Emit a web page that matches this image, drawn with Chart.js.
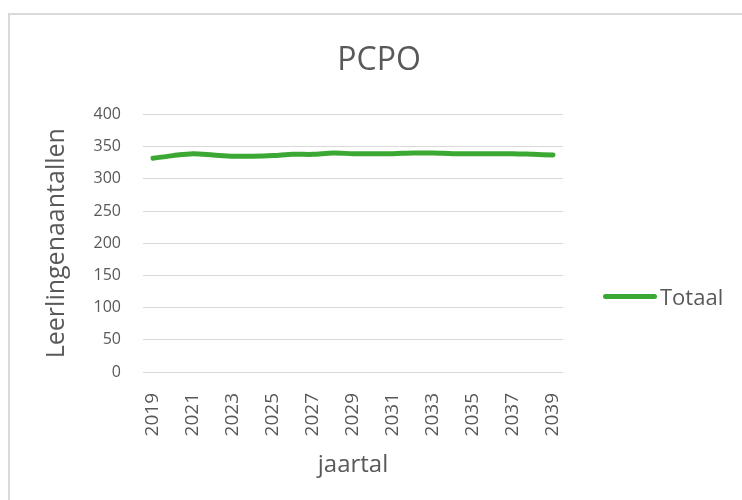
<!DOCTYPE html>
<html>
<head>
<meta charset="utf-8">
<script src="https://cdn.jsdelivr.net/npm/chart.js@4"></script>
<style>
  html, body { margin: 0; padding: 0; background: #fff; overflow: hidden; }
  #wrap { position: relative; width: 742px; height: 500px; }
  #frame { position: absolute; left: 8px; top: 13px; width: 800px; height: 600px; border: 2px solid #d9d9d9; box-sizing: border-box; }
  #chart { position: absolute; left: 0; top: 0; }
  #legend { position: absolute; left: 603px; top: 281px; font-family: "Open Sans", sans-serif; font-size: 22px; color: #595959; display: flex; align-items: center; }
  #legend .swatch { display: inline-block; width: 54px; height: 5px; border-radius: 3px; margin-right: 3px; }
</style>
</head>
<body>
<div id="wrap">
  <div id="frame"></div>
  <canvas id="chart" width="742" height="500"></canvas>
  <div id="legend"></div>
</div>
<script>
const years = [
  "2019", "2020", "2021", "2022", "2023", "2024", "2025", "2026", "2027", "2028",
  "2029", "2030", "2031", "2032", "2033", "2034", "2035", "2036", "2037", "2038", "2039",
];
const totaal = [
  332, 336, 339, 337, 335, 335, 336, 338, 338, 340,
  339, 339, 339, 340, 340, 339, 339, 339, 339, 338, 337,
];
const seriesName = "Totaal";
const chartTitle = "PCPO";
const yTitle = "Leerlingenaantallen";
const xTitle = "jaartal";

const textColor = "#595959";
const gridColor = "#d9d9d9";
const lineColor = "#3ca834";
const font = "'Open Sans', sans-serif";

const ctx = document.getElementById("chart").getContext("2d");
const chart = new Chart(ctx, {
  type: "line",
  data: {
    labels: years,
    datasets: [
      {
        label: seriesName,
        data: totaal,
        borderColor: lineColor,
        backgroundColor: lineColor,
        borderWidth: 5,
        borderCapStyle: "round",
        borderJoinStyle: "round",
        pointRadius: 0,
        tension: 0.3,
        fill: false,
      },
    ],
  },
  options: {
    responsive: false,
    animation: false,
    layout: { padding: { left: 16, right: 0, top: 0, bottom: 0 } },
    plugins: {
      legend: { display: false },
      tooltip: { enabled: false },
      title: {
        display: true,
        text: chartTitle,
        color: textColor,
        font: { family: font, size: 32, weight: "normal" },
        padding: { top: 42, bottom: 34 },
      },
    },
    scales: {
      x: {
        offset: true,
        grid: { display: false },
        border: { display: false },
        ticks: {
          color: textColor,
          font: { family: font, size: 19 },
          autoSkip: false,
          minRotation: 90,
          maxRotation: 90,
          padding: 13,
          callback: (val, i) => (i % 2 === 0 ? years[i] : ""),
        },
        title: {
          display: true,
          text: xTitle,
          color: textColor,
          font: { family: font, size: 24 },
          padding: { top: 0, bottom: 20 },
        },
        afterFit: (s) => { s.height = 128; },
      },
      y: {
        min: 0,
        max: 400,
        grid: { color: gridColor, drawTicks: false },
        border: { display: false },
        ticks: {
          stepSize: 50,
          color: textColor,
          font: { family: font, size: 16 },
          padding: 22,
        },
        title: {
          display: true,
          text: yTitle,
          color: textColor,
          font: { family: font, size: 25 },
          padding: { top: 26, bottom: 0 },
        },
        afterFit: (s) => { s.width = 127; },
      },
      spacer: {
        type: "linear",
        position: "right",
        display: true,
        grid: { display: false },
        border: { display: false },
        ticks: { display: false },
        afterFit: (s) => { s.width = 179; },
      },
    },
  },
});

// legend built from the dataset
const legendEl = document.getElementById("legend");
chart.data.datasets.forEach((ds) => {
  const sw = document.createElement("span");
  sw.className = "swatch";
  sw.style.background = ds.borderColor;
  const txt = document.createElement("span");
  txt.textContent = ds.label;
  legendEl.appendChild(sw);
  legendEl.appendChild(txt);
});
</script>
</body>
</html>
